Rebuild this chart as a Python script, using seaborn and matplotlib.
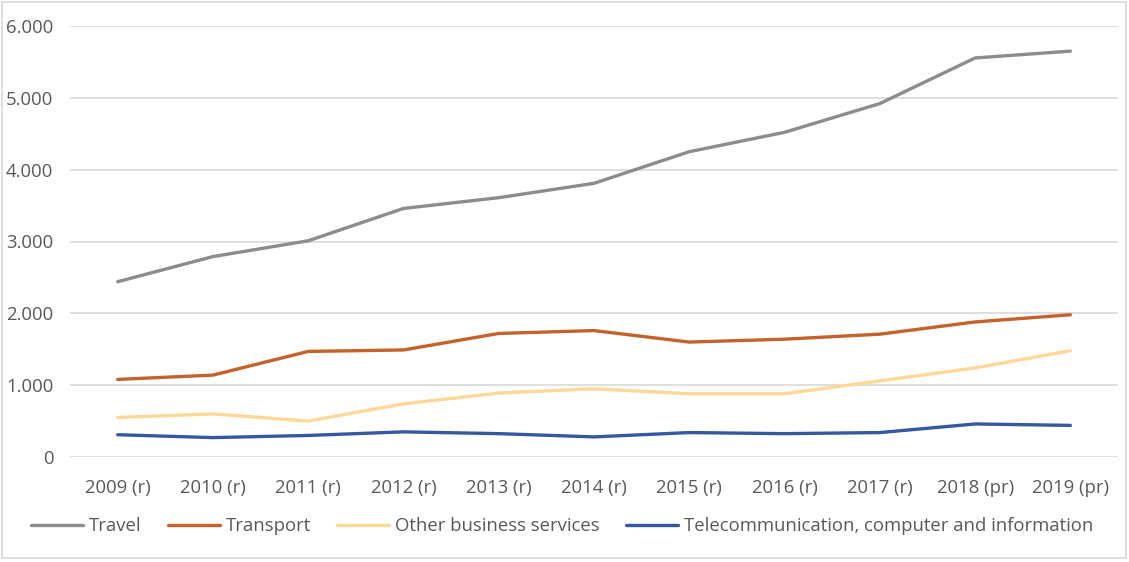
import matplotlib
matplotlib.use("Agg")
import matplotlib.pyplot as plt
from matplotlib.ticker import FuncFormatter, MultipleLocator
from matplotlib.patches import Rectangle
import seaborn as sns
import pandas as pd

years = ["2009 (r)", "2010 (r)", "2011 (r)", "2012 (r)", "2013 (r)", "2014 (r)",
         "2015 (r)", "2016 (r)", "2017 (r)", "2018 (pr)", "2019 (pr)"]
travel = [2440, 2790, 3010, 3460, 3610, 3810, 4250, 4520, 4920, 5555, 5650]
transport = [1080, 1140, 1470, 1490, 1720, 1760, 1600, 1640, 1710, 1880, 1980]
other_business = [550, 600, 500, 740, 890, 950, 880, 880, 1060, 1240, 1480]
telecom = [310, 270, 300, 350, 325, 280, 340, 325, 340, 460, 440]

series_names = ["Travel", "Transport", "Other business services",
                "Telecommunication, computer and information"]
series_values = [travel, transport, other_business, telecom]
colors = ["#8c8c8c", "#c5622a", "#ffd797", "#3558a0"]

rows = []
for name, vals in zip(series_names, series_values):
    for i, (yr, v) in enumerate(zip(years, vals)):
        rows.append({"pos": i, "year": yr, "value": v, "series": name})
df = pd.DataFrame(rows)

sns.set_theme(style="white")
plt.rcParams["font.family"] = ["Open Sans", "DejaVu Sans"]

fs = 13.3
fig = plt.figure(figsize=(11.29, 5.62), dpi=100)
ax = fig.add_axes([70 / 1129, 1 - 457 / 562, (1118 - 70) / 1129, (457 - 26) / 562])

sns.lineplot(data=df, x="pos", y="value", hue="series", hue_order=series_names,
             palette=colors, linewidth=2.4, ax=ax, legend=True, sort=False)

ax.set_xlim(-0.5, len(years) - 0.5)
ax.set_ylim(0, 6000)
ax.set_xticks(range(len(years)))
ax.set_xticklabels(years)
ax.yaxis.set_major_locator(MultipleLocator(1000))
ax.yaxis.set_major_formatter(FuncFormatter(lambda v, p: f"{int(v):,}".replace(",", ".")))
ax.grid(axis="y", color="#d9d9d9", linewidth=1.2)
ax.set_axisbelow(True)
for s in ax.spines.values():
    s.set_visible(False)
ax.tick_params(axis="both", length=0, labelsize=fs, colors="#595959")
ax.tick_params(axis="x", pad=16)
ax.tick_params(axis="y", pad=12)
ax.set_xlabel("")
ax.set_ylabel("")

handles, labels = ax.get_legend_handles_labels()
ax.get_legend().remove()
fig.legend(handles, labels, loc="center", bbox_to_anchor=(0.498, 0.064), ncol=4,
           frameon=False, fontsize=fs, handlelength=2.8, columnspacing=1.4,
           handletextpad=0.35, labelcolor="#595959")

fig.patches.append(Rectangle((2 / 1129, 4 / 562), 1124 / 1129, 556 / 562,
                             transform=fig.transFigure, fill=False,
                             edgecolor="#d9d9d9", linewidth=1.2))

fig.savefig("out.png", dpi=100)
